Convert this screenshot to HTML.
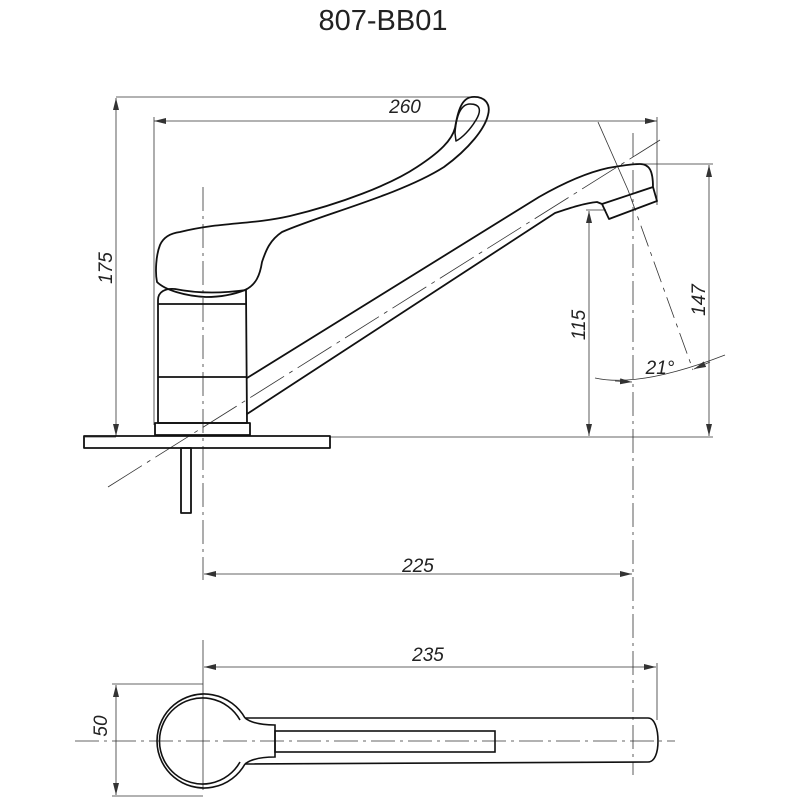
<!DOCTYPE html>
<html><head><meta charset="utf-8"><style>
html,body{margin:0;padding:0;background:#fff;}
svg{display:block}
text{font-family:"Liberation Sans",sans-serif;fill:#222}
</style></head><body>
<svg width="800" height="800" viewBox="0 0 800 800" xmlns="http://www.w3.org/2000/svg">
<defs>
<marker id="a" viewBox="0 0 12 6" refX="12" refY="3" markerWidth="12" markerHeight="6" orient="auto-start-reverse" markerUnits="userSpaceOnUse"><path d="M0,0 L12,3 L0,6 z" fill="#333"/></marker>
</defs>
<text x="383" y="30" font-size="29" text-anchor="middle">807-BB01</text>

<g stroke="#333" stroke-width="0.8" fill="none">
<!-- 175 -->
<line x1="116" y1="97" x2="470" y2="97"/>
<line x1="116" y1="98" x2="116" y2="436" marker-start="url(#a)" marker-end="url(#a)"/>
<line x1="85" y1="437" x2="116" y2="437"/>
<!-- 260 -->
<line x1="154" y1="121" x2="657" y2="121" marker-start="url(#a)" marker-end="url(#a)"/>
<line x1="154" y1="117" x2="154" y2="425"/>
<line x1="657" y1="117" x2="657" y2="205"/>
<!-- 147 -->
<line x1="640" y1="164" x2="713" y2="164"/>
<line x1="709" y1="165" x2="709" y2="436" marker-start="url(#a)" marker-end="url(#a)"/>
<!-- 115 -->
<line x1="586" y1="210" x2="606" y2="210"/>
<line x1="589" y1="211" x2="589" y2="436" marker-start="url(#a)" marker-end="url(#a)"/>
<!-- baseline -->
<line x1="330" y1="437" x2="713" y2="437"/>
<!-- angled line -->
<line x1="598" y1="122" x2="628" y2="190"/>
<line x1="628" y1="190" x2="693" y2="370" stroke-dasharray="22 6 4 6"/>
<path d="M595,378 Q640,388 725,355"/>
<line x1="615" y1="381" x2="632" y2="382" marker-end="url(#a)"/>
<line x1="710" y1="362" x2="694" y2="369" marker-end="url(#a)"/>
<!-- centerlines -->
<line x1="203" y1="187" x2="203" y2="580" stroke-dasharray="24 5 3 5"/>
<line x1="633" y1="133" x2="633" y2="775" stroke-dasharray="24 5 3 5"/>
<line x1="108" y1="487" x2="660" y2="140" stroke-dasharray="40 6 4 6"/>
<!-- 225 -->
<line x1="204" y1="574" x2="632" y2="574" marker-start="url(#a)" marker-end="url(#a)"/>
<!-- 235 -->
<line x1="203" y1="640" x2="203" y2="790"/>
<line x1="204" y1="667" x2="656" y2="667" marker-start="url(#a)" marker-end="url(#a)"/>
<line x1="657" y1="663" x2="657" y2="720"/>
<!-- 50 -->
<line x1="112" y1="684" x2="203" y2="684"/>
<line x1="112" y1="796" x2="203" y2="796"/>
<line x1="116" y1="685" x2="116" y2="795" marker-start="url(#a)" marker-end="url(#a)"/>
<line x1="75" y1="741" x2="675" y2="741" stroke-dasharray="24 5 3 5"/>
</g>

<g font-style="italic" font-size="19">
<text x="405" y="113" text-anchor="middle">260</text>
<text x="418" y="572" text-anchor="middle">225</text>
<text x="428" y="661" text-anchor="middle">235</text>
<text x="660" y="374" text-anchor="middle">21°</text>
<text transform="translate(112,268) rotate(-90)" text-anchor="middle">175</text>
<text transform="translate(585,325) rotate(-90)" text-anchor="middle">115</text>
<text transform="translate(705,300) rotate(-90)" text-anchor="middle">147</text>
<text transform="translate(107,726) rotate(-90)" text-anchor="middle">50</text>
</g>

<g stroke="#111" stroke-width="1.8" fill="none" stroke-linejoin="round">
<!-- handle -->
<path d="M180,232 C220,222 250,225 290,216 C340,204 390,185 417,167 C440,152 452,140 455,128 C458,110 462,98 472,97 C485,96 491,104 488,115 C485,128 470,148 444,167 C400,195 320,215 282,232 C270,240 266,250 262,262 C260,275 256,285 245,290 C230,296 215,297 206,297 C185,296 165,290 157,282 C155,272 156,255 160,245 C164,236 172,233 180,232 Z"/>
<path d="M455,133 C456,118 460,104 470,104 C480,104 482,110 476,120 C470,130 462,138 456,141 Z" stroke-width="1.5"/>
<!-- body -->
<path d="M158,423 L158,300 C158,292 165,288 175,289 C200,294 225,293 246,290 L247,423 Z"/>
<line x1="158" y1="304" x2="246" y2="304"/>
<line x1="158" y1="377" x2="247" y2="377"/>
<rect x="155" y="423" width="95" height="12"/>
<rect x="84" y="436" width="246" height="12"/>
<rect x="181" y="448" width="10" height="65"/>
<!-- spout -->
<path d="M247,378 L539,197 C560,185 585,173 608,168 C620,166 630,164 640,164 C650,164 653,172 653,187 L657,201 L609,219 L602,204 L597,202 C585,203 570,208 555,213 L247,414"/>
<line x1="602" y1="204" x2="653" y2="187"/>
</g>

<!-- bottom view -->
<g stroke="#111" stroke-width="1.6" fill="none">
<path d="M245,718 A47,47 0 1 0 245,764"/>
<path d="M240,720 A43,43 0 1 0 240,762"/>
<path d="M245,718 C250,722 258,725 275,725 L275,757 C258,757 250,760 245,764"/>
<path d="M245,718 L648,718 C655,718 658,730 658,741 C658,752 655,762 648,762 L245,764"/>
<rect x="275" y="731" width="220" height="21"/>
</g>
</svg>
</body></html>
